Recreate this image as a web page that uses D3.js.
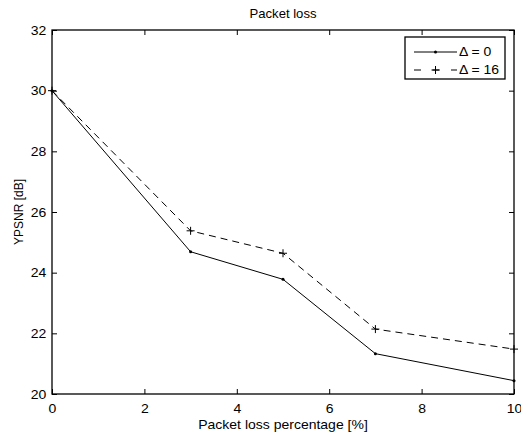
<!DOCTYPE html>
<html>
<head>
<meta charset="utf-8">
<script src="https://cdn.jsdelivr.net/npm/d3@7"></script>
<style>
  html, body { margin: 0; padding: 0; background: #fff; }
  svg { display: block; }
  text { font-family: "Liberation Sans", Arial, Helvetica, sans-serif; fill: #000; }
</style>
</head>
<body>
<svg id="chart" width="521" height="433"></svg>
<script>
const xValues = [0, 3, 5, 7, 10];
const delta0 = [30.0, 24.69, 23.78, 21.33, 20.44];
const delta16 = [30.0, 25.38, 24.64, 22.14, 21.48];
const seriesNames = ["\u0394 = 0", "\u0394 = 16"];
const xTicks = [0, 2, 4, 6, 8, 10];
const yTicks = [20, 22, 24, 26, 28, 30, 32];
const titleText = "Packet loss";
const xLabelText = "Packet loss percentage [%]";
const yLabelText = "YPSNR [dB]";

(function () {
const svg = d3.select("#chart");
const L = 52, R = 514, T = 30, B = 394;
const x = d3.scaleLinear().domain([0, 10]).range([L, R]);
const y = d3.scaleLinear().domain([20, 32]).range([B, T]);
const fs = 12.5, tk = 5, sx = 1.12;

const g = svg.append("g");

const axB = g.append("g").attr("transform", `translate(0,${B})`)
  .call(d3.axisBottom(x).tickValues(xTicks).tickSizeInner(-tk).tickSizeOuter(0).tickPadding(10));
const axT = g.append("g").attr("transform", `translate(0,${T})`)
  .call(d3.axisTop(x).tickValues(xTicks).tickSizeInner(-tk).tickSizeOuter(0).tickFormat(""));
const axL = g.append("g").attr("transform", `translate(${L},0)`)
  .call(d3.axisLeft(y).tickValues(yTicks).tickSizeInner(-tk).tickSizeOuter(0).tickPadding(5));
const axR = g.append("g").attr("transform", `translate(${R},0)`)
  .call(d3.axisRight(y).tickValues(yTicks).tickSizeInner(-tk).tickSizeOuter(0).tickFormat(""));
[axB, axT, axL, axR].forEach(a => {
  a.select(".domain").remove();
  a.selectAll("line").attr("stroke", "#000").attr("stroke-width", 1);
  a.selectAll("text").style("font-size", fs + "px")
    .style("font-family", '"Liberation Sans", Arial, sans-serif').attr("fill", "#000")
    .attr("transform", `scale(${sx},1)`);
});
axB.selectAll("text").attr("dy", "0.71em");

g.append("rect").attr("x", L).attr("y", T).attr("width", R - L).attr("height", B - T)
  .attr("fill", "none").attr("stroke", "#000").attr("stroke-width", 1.3);

const line = d3.line().x((d, i) => x(xValues[i])).y(d => y(d));

g.append("path").datum(delta0).attr("d", line)
  .attr("fill", "none").attr("stroke", "#000").attr("stroke-width", 1);
g.append("path").datum(delta16).attr("d", line)
  .attr("fill", "none").attr("stroke", "#000").attr("stroke-width", 1)
  .attr("stroke-dasharray", "7,5");

g.selectAll(".dot0").data(delta0).enter().append("circle")
  .attr("cx", (d, i) => x(xValues[i])).attr("cy", d => y(d)).attr("r", 1.5).attr("fill", "#000");

const plus = (sel, cx, cy, s) => {
  sel.append("path").attr("d", `M${cx - s},${cy}H${cx + s}M${cx},${cy - s}V${cy + s}`)
    .attr("stroke", "#000").attr("stroke-width", 1).attr("fill", "none");
};
delta16.forEach((d, i) => plus(g, x(xValues[i]), y(d), 4));

const htext = (px, py, txt, size, anchor, s) => {
  svg.append("g").attr("transform", `translate(${px},${py}) scale(${s},1)`)
    .append("text").attr("text-anchor", anchor).style("font-size", size + "px").text(txt);
};
htext((L + R) / 2, 18, titleText, 12.5, "middle", 1.05);
htext((L + R) / 2, 429, xLabelText, fs, "middle", sx);
svg.append("text").attr("transform", `translate(23,${(T + B) / 2}) rotate(-90)`)
  .attr("text-anchor", "middle").style("font-size", "12px").text(yLabelText);

const lg = svg.append("g");
lg.append("rect").attr("x", 405).attr("y", 37).attr("width", 100).attr("height", 42)
  .attr("fill", "#fff").attr("stroke", "#000").attr("stroke-width", 1.3);
const rows = [52, 70];
lg.append("line").attr("x1", 414).attr("x2", 457).attr("y1", rows[0]).attr("y2", rows[0])
  .attr("stroke", "#000");
lg.append("circle").attr("cx", 435.5).attr("cy", rows[0]).attr("r", 1.5).attr("fill", "#000");
lg.append("line").attr("x1", 414).attr("x2", 457).attr("y1", rows[1]).attr("y2", rows[1])
  .attr("stroke", "#000").attr("stroke-dasharray", "7,11.5");
plus(lg, 435.5, rows[1], 4);
seriesNames.forEach((n, i) => {
  svg.append("g").attr("transform", `translate(459,${rows[i]}) scale(${sx},1)`)
    .append("text").attr("dy", "0.35em").style("font-size", fs + "px").text(n);
});
})();
</script>
</body>
</html>
